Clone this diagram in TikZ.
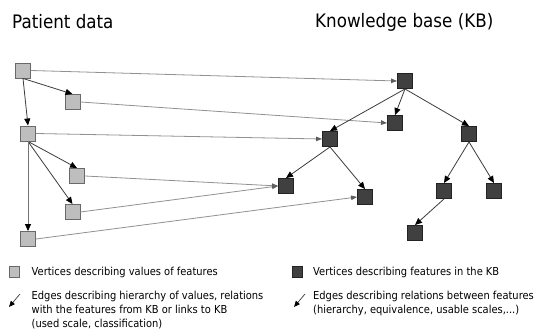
\documentclass[tikz,border=0pt]{standalone}
\usepackage{fontspec}
\setmainfont{DejaVu Sans}[FakeStretch=0.9]
\usetikzlibrary{arrows.meta}
\definecolor{pfill}{RGB}{190,190,190}
\definecolor{pdraw}{RGB}{105,105,105}
\definecolor{kfill}{RGB}{64,64,64}
\definecolor{kdraw}{RGB}{35,35,35}
\definecolor{linkc}{RGB}{145,145,145}
\definecolor{linkh}{RGB}{95,95,95}
\definecolor{treec}{RGB}{60,60,60}
\begin{document}
\begin{tikzpicture}[x=1pt,y=-1pt,
  pnode/.style={rectangle,draw=pdraw,fill=pfill,line width=0.9pt,minimum size=15pt,inner sep=0pt},
  knode/.style={rectangle,draw=kdraw,fill=kfill,line width=0.9pt,minimum size=15pt,inner sep=0pt},
  tree/.style={draw=treec,line width=0.8pt,-{Triangle[length=7pt,width=6pt,color=black]}},
  link/.style={draw=linkc,line width=0.8pt,-{Triangle[length=6pt,width=4.5pt,color=linkh]}},
  legarrow/.style={draw=treec,line width=0.7pt,-{Triangle[length=6pt,width=5pt,color=black]}},
  title/.style={font=\fontsize{18.6}{22}\selectfont,anchor=base west,inner sep=0pt},
  legend/.style={font=\fontsize{11}{13}\selectfont,anchor=base west,inner sep=0pt}]
\useasboundingbox[fill=white] (0,0) rectangle (539,334);

% titles
\node[title] (tpd) at (12,29) {Patient data};
\node[title] (tkb) at (315,28) {Knowledge base (KB)};

% patient data nodes
\node[pnode] (p1) at (23,70.5) {};
\node[pnode] (p2) at (72.5,102) {};
\node[pnode] (p3) at (28,133.5) {};
\node[pnode] (p4) at (77,176) {};
\node[pnode] (p5) at (72.5,212) {};
\node[pnode] (p6) at (28,239) {};

% knowledge base nodes
\node[knode] (k1) at (405,81) {};
\node[knode] (k2) at (395,123) {};
\node[knode] (k3) at (330,139) {};
\node[knode] (k4) at (469,134) {};
\node[knode] (k5) at (286,186) {};
\node[knode] (k6) at (365,197) {};
\node[knode] (k7) at (444,191) {};
\node[knode] (k8) at (494,191) {};
\node[knode] (k9) at (415,233) {};

% links patient -> KB
\draw[link] (p1.east) -- (k1.west);
\draw[link] (p2.east) -- (k2.west);
\draw[link] (p3.east) -- (k3.west);
\draw[link] (p4.east) -- (k5.west);
\draw[link] (p5.east) -- (k5.west);
\draw[link] (p6.east) -- (k6.west);

% patient tree
\draw[tree] (p1.south) -- (p2.north);
\draw[tree] (p1.south) -- (p3.north);
\draw[tree] (p3.south) -- (p4.north);
\draw[tree] (p3.south) -- (p5.north);
\draw[tree,draw=linkc!80!black] (p3.south) -- (p6.north);

% KB tree
\draw[tree] (k1.south) -- (k3.north);
\draw[tree] (k1.south) -- (k2.north);
\draw[tree] (k1.south) -- (k4.north);
\draw[tree] (k3.south) -- (k5.north);
\draw[tree] (k3.south) -- (k6.north);
\draw[tree] (k4.south) -- (k7.north);
\draw[tree] (k4.south) -- (k8.north);
\draw[tree] (k7.south) -- (k9.north);

% legend
\node[pnode,minimum size=10.5pt,line width=0.8pt] (lp) at (14.5,272) {};
\node[legend] (lpt) at (31.5,276) {Vertices describing values of features};
\node[knode,minimum size=10.5pt,line width=0.8pt] (lk) at (297.5,272) {};
\node[legend] (lkt) at (313,276) {Vertices describing features in the KB};

\coordinate (la1) at (20,294);
\coordinate (la2) at (9,307);
\draw[legarrow] (la1) -- (la2);
\node[legend] (le1) at (31.5,300) {Edges describing hierarchy of values, relations};
\node[legend] (le2) at (31.5,313.7) {with the features from KB or links to KB};
\node[legend] (le3) at (31.5,327.4) {(used scale, classification)};

\coordinate (lb1) at (305,294);
\coordinate (lb2) at (294,307);
\draw[legarrow] (lb1) -- (lb2);
\node[legend] (lf1) at (313,300) {Edges describing relations between features};
\node[legend] (lf2) at (313,313.7) {(hierarchy, equivalence, usable scales,...)};
\end{tikzpicture}
\end{document}
